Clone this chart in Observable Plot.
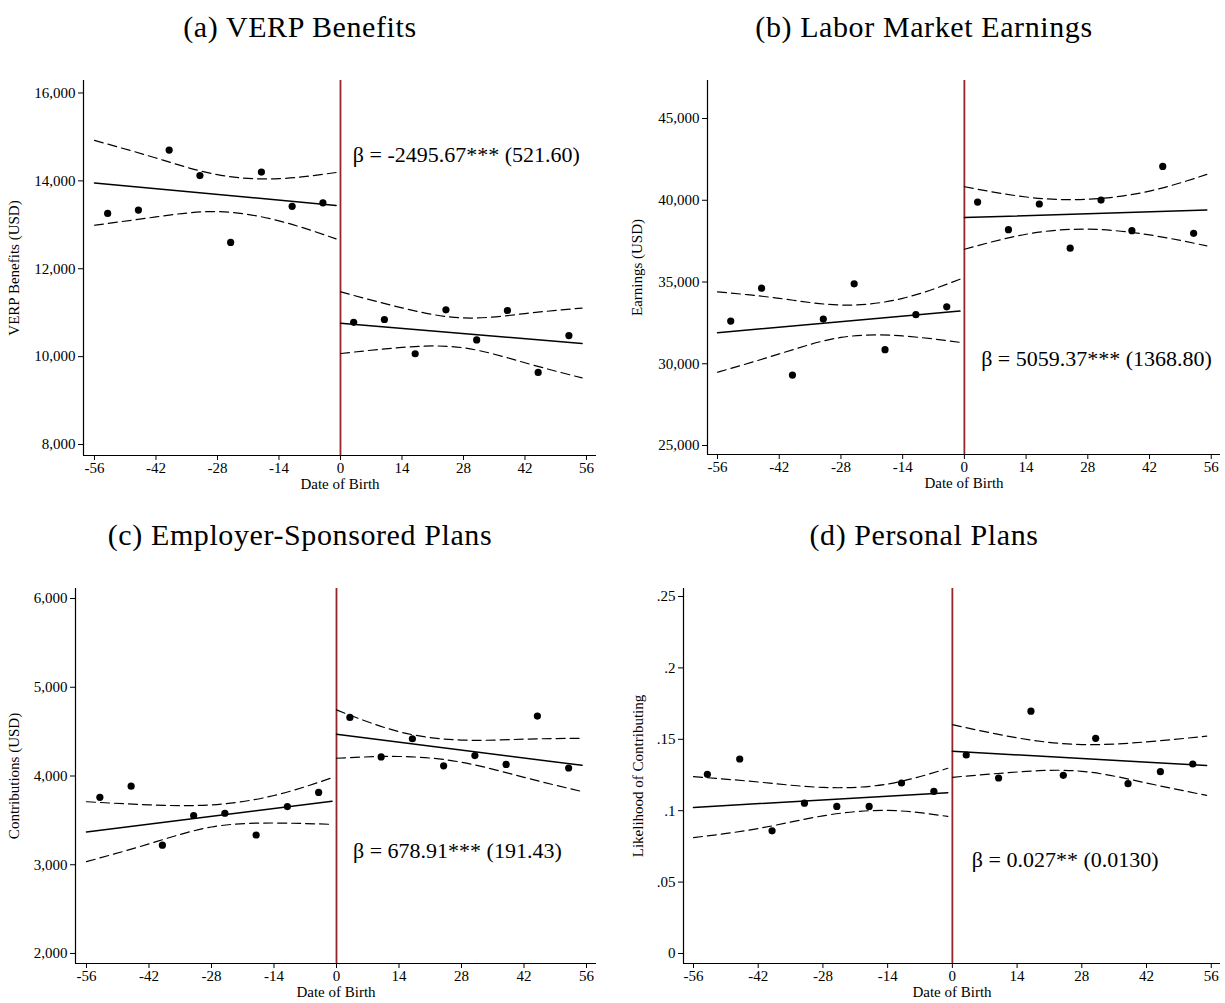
<!DOCTYPE html>
<html><head><meta charset="utf-8">
<script src="https://cdn.jsdelivr.net/npm/d3@7"></script>
<script src="https://cdn.jsdelivr.net/npm/@observablehq/plot@0.6"></script>
<style>
body{margin:0;background:#fff;}
#root{position:relative;width:1225px;height:1003px;background:#fff;overflow:hidden;font-family:"Liberation Serif",serif;}
.title{position:absolute;font-size:30px;letter-spacing:0.6px;text-align:center;width:612px;line-height:1;color:#000;white-space:nowrap;}
.panel{position:absolute;}
</style></head><body><div id="root"></div>
<script>
// ---- shared categories ----
const binX = [-53,-46,-39,-32,-25,-18,-11,-4,3,10,17,24,31,38,45,52];
const fitXLeft = [-56,-1];
const fitXRight = [0,55];
const bandXLeft = [-56,-42,-28,-14,-1];
const bandXRight = [0,14,28,42,55];
const xTicks = [-56,-42,-28,-14,0,14,28,42,56];
const xLabel = "Date of Birth";

// ---- titles / labels ----
const titles = ["(a) VERP Benefits","(b) Labor Market Earnings","(c) Employer-Sponsored Plans","(d) Personal Plans"];
const yLabels = ["VERP Benefits (USD)","Earnings (USD)","Contributions (USD)","Likelihood of Contributing"];
const annotations = ["β = -2495.67*** (521.60)","β = 5059.37*** (1368.80)","β = 678.91*** (191.43)","β = 0.027** (0.0130)"];
const annotationX = [2.8, 3.8, 3.7, 4.2];
const annotationY = [14600, 30300, 3155, 0.0653];

// ---- (a) VERP Benefits ----
const verpPoints = [13260,13335,14700,14120,12600,14200,13420,13500,10780,10845,10065,11065,10380,11050,9640,10480];
const verpFitLeft = [13950,13440];
const verpFitRight = [10760,10300];
const verpUpperLeft = [14920,14520,14140,14050,14190];
const verpLowerLeft = [12990,13180,13300,13090,12680];
const verpUpperRight = [11475,11110,10880,10980,11105];
const verpLowerRight = [10070,10210,10200,9860,9515];
const verpTicks = [8000,10000,12000,14000,16000];

// ---- (b) Earnings ----
const earnPoints = [32610,34620,29310,32730,34890,30860,33000,33480,39890,38200,39770,37070,40010,38140,42070,37980];
const earnFitLeft = [31900,33220];
const earnFitRight = [38940,39400];
const earnUpperLeft = [34400,34000,33590,34000,35170];
const earnLowerLeft = [29480,30600,31610,31700,31310];
const earnUpperRight = [40830,40200,40060,40560,41580];
const earnLowerRight = [37000,37920,38230,37880,37210];
const earnTicks = [25000,30000,35000,40000,45000];

// ---- (c) Employer-sponsored ----
const empPoints = [3760,3885,3220,3555,3580,3335,3655,3815,4660,4215,4420,4115,4230,4130,4675,4090];
const empFitLeft = [3370,3715];
const empFitRight = [4470,4120];
const empUpperLeft = [3710,3675,3675,3780,3980];
const empLowerLeft = [3035,3235,3425,3470,3455];
const empUpperRight = [4745,4500,4405,4415,4425];
const empLowerRight = [4200,4220,4155,3985,3825];
const empTicks = [2000,3000,4000,5000,6000];

// ---- (d) Personal plans ----
const persPoints = [.1255,.1362,.0859,.1053,.1030,.1030,.1194,.1135,.1390,.1229,.1697,.1248,.1507,.1189,.1273,.1327];
const persFitLeft = [.1023,.1126];
const persFitRight = [.1416,.1316];
const persUpperLeft = [.1238,.1201,.1163,.1187,.1297];
const persLowerLeft = [.0812,.0875,.0964,.1002,.0960];
const persUpperRight = [.1603,.1510,.1463,.1482,.1522];
const persLowerRight = [.1234,.1271,.1276,.1194,.1107];
const persTicks = [0,.05,.1,.15,.2,.25];

// ---- layout (positions only) ----
const layout = [
  {left:0,   top:60,  width:612, height:445, mL:83, mR:16, mT:20, mB:50, xDom:[-58.5,58.28], yDom:[7750,16284], yDx:-69, xDy:33, titleCx:300, titleTop:12},
  {left:612, top:60,  width:613, height:445, mL:95, mR:5,  mT:20, mB:51, xDom:[-58.27,58.1], yDom:[24450,47324], yDx:-70, xDy:33, titleCx:924, titleTop:12},
  {left:0,   top:568, width:612, height:435, mL:75, mR:16, mT:20, mB:40, xDom:[-58.46,58.24], yDom:[1887,6113], yDx:-61, xDy:33, titleCx:300, titleTop:520},
  {left:612, top:568, width:613, height:435, mL:71, mR:5,  mT:20, mB:40, xDom:[-58.16,58.0], yDom:[-0.007,0.2556], yDx:-45, xDy:33, titleCx:924, titleTop:520}
];

const commaFmt = d3.format(",");
const propFmt = d => d === 0 ? "0" : String(+d.toFixed(2)).replace(/^0/, "");
const panels = [
  {points:verpPoints, fitL:verpFitLeft, fitR:verpFitRight, uL:verpUpperLeft, lL:verpLowerLeft, uR:verpUpperRight, lR:verpLowerRight, ticks:verpTicks, fmt:commaFmt},
  {points:earnPoints, fitL:earnFitLeft, fitR:earnFitRight, uL:earnUpperLeft, lL:earnLowerLeft, uR:earnUpperRight, lR:earnLowerRight, ticks:earnTicks, fmt:commaFmt},
  {points:empPoints, fitL:empFitLeft, fitR:empFitRight, uL:empUpperLeft, lL:empLowerLeft, uR:empUpperRight, lR:empLowerRight, ticks:empTicks, fmt:commaFmt},
  {points:persPoints, fitL:persFitLeft, fitR:persFitRight, uL:persUpperLeft, lL:persLowerLeft, uR:persUpperRight, lR:persLowerRight, ticks:persTicks, fmt:propFmt}
];

const RED = "#922628";
const root = document.getElementById("root");
const zip = (xs, ys) => xs.map((x, i) => ({x, y: ys[i]}));
const dash = {stroke:"#000", strokeWidth:1.2, strokeDasharray:"9,5", curve:"natural"};

panels.forEach((p, k) => {
  const L = layout[k];
  const t = document.createElement("div");
  t.className = "title";
  t.textContent = titles[k];
  t.style.left = (L.titleCx - 306) + "px";
  t.style.top = L.titleTop + "px";
  root.appendChild(t);

  const chart = Plot.plot({
    width: L.width, height: L.height,
    marginLeft: L.mL, marginRight: L.mR, marginTop: L.mT, marginBottom: L.mB,
    style: {fontFamily: "Liberation Serif", fontSize: "15px", color: "#000", background: "transparent", overflow: "visible"},
    x: {domain: L.xDom, ticks: xTicks, tickFormat: d => String(d), tickSize: 5, tickPadding: 2, label: null},
    y: {domain: L.yDom, ticks: p.ticks, tickFormat: p.fmt, tickSize: 5, tickPadding: 3, label: null},
    marks: [
      Plot.ruleX([0], {stroke: RED, strokeWidth: 1.8}),
      Plot.line(zip(bandXLeft, p.uL), {x:"x", y:"y", ...dash}),
      Plot.line(zip(bandXLeft, p.lL), {x:"x", y:"y", ...dash}),
      Plot.line(zip(bandXRight, p.uR), {x:"x", y:"y", ...dash}),
      Plot.line(zip(bandXRight, p.lR), {x:"x", y:"y", ...dash}),
      Plot.line(zip(fitXLeft, p.fitL), {x:"x", y:"y", stroke:"#000", strokeWidth:1.5}),
      Plot.line(zip(fitXRight, p.fitR), {x:"x", y:"y", stroke:"#000", strokeWidth:1.5}),
      Plot.dot(zip(binX, p.points), {x:"x", y:"y", r:3.6, fill:"#000", stroke:null}),
      Plot.ruleX([L.xDom[0]], {stroke:"#000", strokeWidth:1.2}),
      Plot.ruleY([L.yDom[0]], {stroke:"#000", strokeWidth:1.2}),
      Plot.text([yLabels[k]], {text: d => d, frameAnchor: "left", textAnchor: "middle", rotate: -90, dx: L.yDx, fontSize: 15}),
      Plot.text([xLabel], {text: d => d, frameAnchor: "bottom", textAnchor: "middle", dy: L.xDy, fontSize: 15}),
      Plot.text([{x: annotationX[k], y: annotationY[k], s: annotations[k]}], {x:"x", y:"y", text:"s", textAnchor:"start", fontSize: 22})
    ]
  });
  chart.classList.add("panel");
  chart.style.left = L.left + "px";
  chart.style.top = L.top + "px";
  root.appendChild(chart);
});
</script></body></html>
